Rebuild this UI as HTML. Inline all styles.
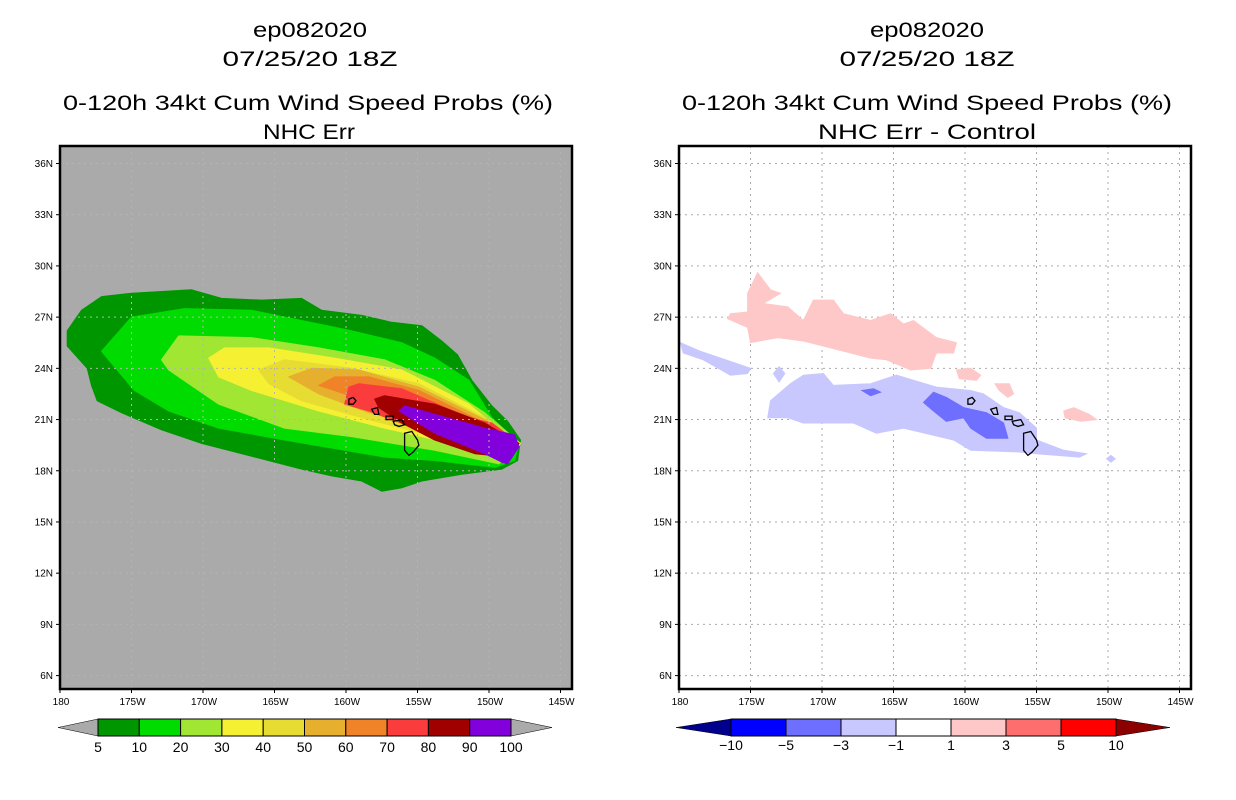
<!DOCTYPE html>
<html><head><meta charset="utf-8">
<style>
html,body{margin:0;padding:0;background:#fff;}
svg{display:block;font-family:"Liberation Sans",sans-serif;}
</style></head>
<body>
<svg id="chart" width="1236" height="800" viewBox="0 0 1236 800">
<g text-anchor="middle" font-size="21" fill="#000">
<text x="310" y="37" textLength="114" lengthAdjust="spacingAndGlyphs">ep082020</text>
<text x="310" y="66" textLength="175" lengthAdjust="spacingAndGlyphs">07/25/20 18Z</text>
<text x="308" y="110" textLength="490" lengthAdjust="spacingAndGlyphs">0-120h 34kt Cum Wind Speed Probs (%)</text>
<text x="309" y="139" textLength="92" lengthAdjust="spacingAndGlyphs">NHC Err</text>
</g>
<g text-anchor="middle" font-size="21" fill="#000">
<text x="927" y="37" textLength="114" lengthAdjust="spacingAndGlyphs">ep082020</text>
<text x="927" y="66" textLength="175" lengthAdjust="spacingAndGlyphs">07/25/20 18Z</text>
<text x="927" y="110" textLength="490" lengthAdjust="spacingAndGlyphs">0-120h 34kt Cum Wind Speed Probs (%)</text>
<text x="927" y="139" textLength="218" lengthAdjust="spacingAndGlyphs">NHC Err - Control</text>
</g>
<g id="left"></g>
<g id="right"></g>
<g id="cbl"></g>
<g id="cbr"></g>
</svg>
<script>
// ---- axis data ----
const latTicks=[6,9,12,15,18,21,24,27,30,33,36];
const lonTicks=[180,175,170,165,160,155,150,145];
// ---- left panel contour data (lon in degrees W, lat in degrees N) ----
const probLevels=[5,10,20,30,40,50,60,70,80,90,100];
const probColors=["#009600","#00dc00","#a0e632","#f5f032","#e6dc32","#e6af2d","#f08228","#fa3c3c","#a00000","#8200dc"];
const prob5=[[179.5,26.2],[178.5,27.4],[177.1,28.2],[175.0,28.4],[170.8,28.6],[168.7,28.1],[165.9,28.0],[163.1,28.1],[161.7,27.4],[158.9,27.1],[156.8,26.7],[154.7,26.5],[153.3,25.6],[152.2,24.8],[151.2,23.3],[149.8,21.8],[148.7,20.9],[147.8,19.8],[148.0,18.6],[149.1,18.1],[151.9,17.8],[154.7,17.4],[156.1,17.0],[157.5,16.8],[158.9,17.4],[161.0,17.7],[163.1,18.1],[165.9,18.7],[170.1,19.6],[172.9,20.4],[175.7,21.4],[177.4,22.1],[177.8,23.0],[178.1,24.0],[179.5,25.3]];
const prob10=[[177.1,25.0],[175.0,27.0],[171.3,27.5],[166.6,27.4],[161.9,26.6],[159.6,26.2],[156.1,25.5],[153.8,24.6],[151.4,23.3],[149.8,21.1],[147.9,19.6],[148.2,18.6],[149.6,18.2],[153.8,18.6],[157.3,18.8],[160.1,19.2],[164.3,19.8],[168.9,20.5],[172.4,21.5],[174.8,22.7]];
const prob20=[[172.9,24.5],[171.7,25.9],[166.6,25.8],[161.9,25.2],[157.3,24.5],[153.8,23.3],[150.3,21.4],[147.8,19.6],[149.3,18.4],[153.8,19.2],[159.6,20.0],[164.3,20.5],[168.9,21.9],[172.4,23.9]];
const prob30=[[169.6,24.6],[168.5,25.2],[165.4,25.2],[160.8,24.6],[156.1,23.9],[151.4,21.9],[150.0,20.9],[147.8,19.6],[148.4,18.8],[152.6,19.6],[157.3,20.5],[161.9,21.5],[166.6,22.7],[168.9,23.5]];
const prob40=[[166.1,23.9],[164.3,24.5],[159.6,24.0],[154.9,23.1],[150.3,21.1],[147.9,19.6],[148.6,18.8],[153.8,20.0],[158.4,21.0],[163.1,22.1],[165.4,23.1]];
const prob50=[[164.0,23.5],[162.4,24.0],[159.1,23.9],[154.9,22.9],[150.3,21.0],[147.9,19.6],[148.6,18.8],[153.8,20.5],[158.4,21.4],[161.9,22.5]];
const prob60=[[161.9,23.0],[160.8,23.5],[158.4,23.5],[154.9,22.7],[150.3,20.8],[147.9,19.6],[148.6,18.8],[153.8,20.7],[157.3,21.7],[160.1,22.5]];
const prob70=[[159.8,22.9],[159.1,23.1],[156.1,22.8],[151.4,21.1],[149.8,20.8],[147.9,19.6],[148.6,18.8],[151.4,19.2],[154.9,20.4],[158.4,21.5],[160.1,21.9]];
const prob80=[[158.0,22.2],[157.3,22.4],[153.8,21.9],[150.3,20.8],[147.9,19.6],[148.6,18.8],[151.0,19.0],[153.8,19.8],[156.1,20.8],[157.7,21.7]];
const prob90=[[156.3,21.5],[155.9,21.8],[150.3,20.5],[148.2,20.1],[147.9,19.4],[148.7,18.4],[149.1,18.5],[150.3,19.0],[153.8,20.2]];
const probSeries=[prob5,prob10,prob20,prob30,prob40,prob50,prob60,prob70,prob80,prob90];
// ---- right panel difference data ----
const diffLabels=["-10","-5","-3","-1","1","3","5","10"];
const diffColors=["#00008c","#0000ff","#6e6eff","#c8c8ff","#ffffff","#ffc8c8","#ff6e6e","#ff0000","#8c0000"];
const diffPos1=[[175.2,28.4],[174.5,29.6],[173.6,28.6],[172.9,28.4],[174.1,27.8],[172.4,27.6],[171.3,26.8],[170.6,28.0],[169.2,28.0],[168.5,27.2],[166.6,26.8],[165.2,27.2],[164.3,26.6],[163.6,26.8],[162.0,25.8],[160.6,25.5],[160.8,24.9],[162.0,24.9],[162.4,24.0],[163.8,23.9],[165.5,24.5],[166.6,24.6],[169.4,25.2],[171.3,25.6],[173.1,25.8],[175.0,25.5],[175.2,26.4],[176.6,26.9],[176.4,27.2],[175.2,27.3]];
const diffPos2=[[160.6,23.9],[159.6,24.0],[158.9,23.6],[159.2,23.3],[160.4,23.4]];
const diffPos3=[[157.9,23.1],[156.9,23.1],[156.6,22.5],[157.0,22.3],[157.6,22.7]];
const diffPos4=[[153.1,21.5],[152.4,21.7],[151.3,21.3],[150.8,21.0],[151.9,20.9],[153.0,21.1]];
const diffNeg1=[[173.8,21.1],[173.6,22.1],[172.2,23.1],[171.3,23.6],[169.9,23.7],[169.2,23.0],[166.6,23.1],[164.8,23.6],[162.0,22.9],[159.6,22.7],[158.7,22.5],[157.3,21.7],[156.2,21.4],[155.0,20.5],[155.0,19.8],[153.1,19.2],[151.5,19.0],[152.0,18.8],[155.0,19.0],[156.2,19.1],[159.6,19.2],[160.8,19.8],[164.3,20.5],[166.2,20.2],[167.8,20.8],[171.3,20.8],[172.4,21.1]];
const diffNeg2=[[179.9,25.5],[178.5,25.0],[177.1,24.6],[175.0,24.0],[175.2,23.7],[176.4,23.6],[178.3,24.5],[179.7,24.9]];
const diffNeg3=[[150.1,18.7],[149.8,18.5],[149.5,18.7],[149.8,18.9]];
const diffNeg4=[[173.4,23.7],[173.0,23.2],[172.6,23.7],[173.0,24.1]];
const diffDark1=[[162.9,22.0],[162.2,22.6],[161.3,22.3],[160.1,21.7],[158.5,21.4],[157.3,20.8],[157.0,19.9],[158.5,19.9],[159.6,20.5],[160.1,21.1],[161.3,20.9],[162.2,21.5]];
const diffDark2=[[167.2,22.7],[166.4,22.8],[165.9,22.6],[166.6,22.4]];
// ---- islands ----
const islands=[
 [[155.9,20.2],[155.4,20.3],[155.0,19.8],[154.9,19.5],[155.3,19.1],[155.6,18.9],[155.9,19.2],[155.9,19.7]],
 [[159.8,22.2],[159.5,22.3],[159.3,22.1],[159.5,21.9],[159.8,21.9]],
 [[158.2,21.6],[157.8,21.7],[157.7,21.3],[158.0,21.3]],
 [[157.2,21.2],[156.7,21.2],[156.7,21.0],[157.2,21.0]],
 [[156.7,20.9],[156.1,21.0],[155.9,20.7],[156.3,20.6],[156.6,20.7]]
];
const NS="http://www.w3.org/2000/svg";
function el(t,a,p){const e=document.createElementNS(NS,t);for(const k in a)e.setAttribute(k,a[k]);p.appendChild(e);return e;}
function makeAxes(x0){
  const X=w=>x0+(180-w)*14.3, Y=l=>163.5+(36-l)*17.07;
  return {X,Y,pts:arr=>arr.map(p=>X(p[0]).toFixed(1)+","+Y(p[1]).toFixed(1)).join(" ")};
}
function drawFrame(g,ax,x0,bg){
  const L=x0, R=x0+512, T=146, B=689;
  const bgr=el("rect",{x:L,y:T,width:R-L,height:B-T,fill:bg},g);
  
  
  return {L,R,T,B};
}
function drawGrid(g,ax,f,col){
  lonTicks.forEach(w=>{const x=ax.X(w);if(x>f.L+2&&x<f.R-2){const l=el("line",{x1:x,x2:x,y1:f.T,y2:f.B,stroke:col,"stroke-width":1,"stroke-dasharray":"2,4"},g);
  
  }});
  latTicks.forEach(t=>{const y=ax.Y(t);const l=el("line",{x1:f.L,x2:f.R,y1:y,y2:y,stroke:col,"stroke-width":1,"stroke-dasharray":"2,4"},g);
  
  });
}
function drawAxes(g,ax,f){
  const fr=el("rect",{x:f.L,y:f.T,width:f.R-f.L,height:f.B-f.T,fill:"none",stroke:"#000","stroke-width":2.5},g);
  
  
  latTicks.forEach(t=>{const y=ax.Y(t);
    el("line",{x1:f.L-4,x2:f.L,y1:y,y2:y,stroke:"#000","stroke-width":1},g);
    const tx=el("text",{x:f.L-7,y:y+3.5,"font-size":10,"text-anchor":"end"},g);tx.textContent=t+"N";
    
    });
  lonTicks.forEach(w=>{const x=ax.X(w);
    el("line",{x1:x,x2:x,y1:f.B,y2:f.B+4,stroke:"#000","stroke-width":1},g);
    const tx=el("text",{x:x+1,y:f.B+16,"font-size":10,"text-anchor":"middle"},g);tx.textContent=w==180?"180":w+"W";
    
    });
}
function drawIslands(g,ax){
  islands.forEach(p=>{const e=el("polygon",{points:ax.pts(p),fill:"none",stroke:"#000","stroke-width":1.3},g);
  
  });
}
// Left
(function(){
  const g=document.getElementById("left"), ax=makeAxes(60);
  const f=drawFrame(g,ax,60,"#aaaaaa");
  probSeries.forEach((s,i)=>{const p=el("polygon",{points:ax.pts(s),fill:probColors[i],stroke:probColors[i],"stroke-width":1,"stroke-linejoin":"round"},g);
    
    });
  drawGrid(g,ax,f,"#b4b4b4");
  drawIslands(g,ax);
  drawAxes(g,ax,f);
})();
// Right
(function(){
  const g=document.getElementById("right"), ax=makeAxes(679);
  const f=drawFrame(g,ax,679,"#ffffff");
  drawGrid(g,ax,f,"#aaaaaa");
  const shapes=[[diffPos1,5,'diff-pos-1-3'],[diffPos2,5,'diff-pos-1-3'],[diffPos3,5,'diff-pos-1-3'],[diffPos4,5,'diff-pos-1-3'],
    [diffNeg1,3,'diff-neg-1-3'],[diffNeg2,3,'diff-neg-1-3'],[diffNeg3,3,'diff-neg-1-3'],[diffNeg4,3,'diff-neg-1-3'],
    [diffDark1,2,'diff-neg-3-5'],[diffDark2,2,'diff-neg-3-5']];
  shapes.forEach(s=>{const p=el("polygon",{points:ax.pts(s[0]),fill:diffColors[s[1]],stroke:diffColors[s[1]],"stroke-width":1},g);
    
    });
  drawIslands(g,ax);
  drawAxes(g,ax,f);
})();
// Colorbars
(function(){
  const g=document.getElementById("cbl");
  const x0=98,x1=511,y0=719,y1=736,n=probColors.length,w=(x1-x0)/n;
  el("polygon",{points:`${x0},${y0} ${x0},${y1} 58,${(y0+y1)/2}`,fill:"#aaaaaa",stroke:"#000","stroke-width":0.5},g);
  el("polygon",{points:`${x1},${y0} ${x1},${y1} 552,${(y0+y1)/2}`,fill:"#aaaaaa",stroke:"#000","stroke-width":0.5},g);
  probColors.forEach((c,i)=>{const r=el("rect",{x:x0+i*w,y:y0,width:w,height:y1-y0,fill:c,stroke:"#000","stroke-width":1},g);
    
    });
  probLevels.forEach((v,i)=>{const t=el("text",{x:x0+i*w,y:752,"font-size":14,"text-anchor":"middle"},g);t.textContent=v;
    
    });
})();
(function(){
  const g=document.getElementById("cbr");
  const x0=731,x1=1116,y0=719,y1=736,n=diffColors.length-2,w=(x1-x0)/n;
  el("polygon",{points:`${x0},${y0} ${x0},${y1} 676,${(y0+y1)/2}`,fill:diffColors[0],stroke:"#000","stroke-width":0.5},g);
  el("polygon",{points:`${x1},${y0} ${x1},${y1} 1170,${(y0+y1)/2}`,fill:diffColors[8],stroke:"#000","stroke-width":0.5},g);
  for(let i=0;i<n;i++){const r=el("rect",{x:x0+i*w,y:y0,width:w,height:y1-y0,fill:diffColors[i+1],stroke:"#000","stroke-width":1},g);
    
    }
  diffLabels.forEach((v,i)=>{const t=el("text",{x:x0+i*w,y:750,"font-size":14,"text-anchor":"middle"},g);t.textContent=v.replace("-","\u2212");
    
    });
})();
</script>
</body></html>
